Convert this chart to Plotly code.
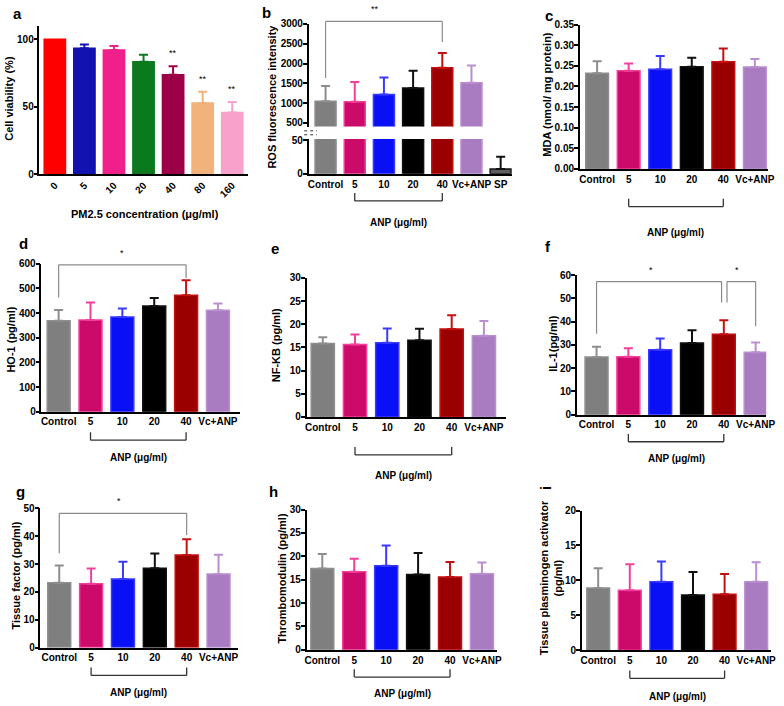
import plotly.graph_objects as go

W, H = 784, 706
FONT = "Liberation Sans, Arial, Helvetica, sans-serif"

# ---------------- data ----------------
a_cats = ["0", "5", "10", "20", "40", "80", "160"]
a_vals = [100, 93.2, 92.0, 83.3, 73.7, 52.7, 45.6]
a_err = [0, 2.8, 3.0, 5.1, 6.3, 8.3, 7.8]
a_sig = ["", "", "", "", "**", "**", "**"]

groups = ["Control", "5", "10", "20", "40", "Vc+ANP"]
b_groups = groups + ["SP"]
b_vals = [1050, 1033, 1217, 1383, 1892, 1517, 7]
b_err = [383, 500, 433, 434, 375, 433, 18.5]

c_vals = [0.232, 0.238, 0.242, 0.248, 0.260, 0.247]
c_err = [0.029, 0.018, 0.032, 0.022, 0.032, 0.020]

d_vals = [369, 372, 384, 429, 473, 412]
d_err = [44, 71, 35, 32, 60, 27]

e_vals = [15.85, 15.64, 16.0, 16.56, 18.97, 17.55]
e_err = [1.35, 2.15, 3.1, 2.5, 3.0, 3.15]

f_vals = [24.8, 24.9, 27.9, 30.8, 34.6, 26.8]
f_err = [4.4, 3.6, 4.8, 5.5, 6.0, 4.2]

g_vals = [23.3, 22.9, 24.6, 28.5, 33.2, 26.4]
g_err = [6.2, 5.5, 6.2, 5.3, 5.7, 6.9]

h_vals = [17.4, 16.7, 18.0, 16.1, 15.6, 16.3]
h_err = [3.1, 2.8, 4.3, 4.6, 3.2, 2.4]

i_vals = [8.9, 8.6, 9.8, 7.9, 8.0, 9.8]
i_err = [2.85, 3.7, 2.9, 3.3, 2.9, 2.8]

# ---------------- styles ----------------
a_fill = ["#FF0000", "#1212B0", "#F0208A", "#0B7A1E", "#9C0046", "#F2B27C", "#F7A1CB"]
g_fill = ["#7F7F7F", "#CC0A6A", "#0A10F5", "#000000", "#9B0000", "#A97CC2"]
g_edge = ["#8E8E8E", "#F2409A", "#3A3AFF", "#111111", "#C41010", "#B98FD0"]
sp_fill, sp_edge = "#5E5E5E", "#111111"

fig = go.Figure()
layout = dict(width=W, height=H, margin=dict(l=0, r=0, t=0, b=0),
              paper_bgcolor="white", plot_bgcolor="rgba(0,0,0,0)",
              showlegend=False, barmode="overlay",
              font=dict(family=FONT, size=10, color="black"))
shapes, annotations = [], []


def nm(n, letter):
    return letter if n == 1 else f"{letter}{n}"


def key(n, letter):
    return f"{letter}axis" if n == 1 else f"{letter}axis{n}"


def set_axes(n, xpx, ypx, xr, yr, xtext, ytv, yfmt=None, tickangle=0, show_x=True):
    layout[key(n, "x")] = dict(
        domain=[xpx[0] / W, xpx[1] / W], range=list(xr), anchor=nm(n, "y"),
        tickmode="array", tickvals=list(range(len(xtext))), ticktext=xtext,
        showline=show_x, showticklabels=show_x, linecolor="black", linewidth=1.5,
        ticks="", showgrid=False, zeroline=False, tickangle=tickangle,
        tickfont=dict(family=FONT, size=10, weight="bold", color="black"))
    ya = dict(
        domain=[1 - ypx[1] / H, 1 - ypx[0] / H], range=list(yr), anchor=nm(n, "x"),
        tickmode="array", tickvals=ytv, showline=True, linecolor="black", linewidth=1.5,
        ticks="outside", ticklen=4, tickwidth=1.5, tickcolor="black",
        showgrid=False, zeroline=False, ticklabelstandoff=-2,
        tickfont=dict(family=FONT, size=10, weight="bold", color="black"))
    if yfmt:
        ya["tickformat"] = yfmt
    layout[key(n, "y")] = ya


def add_bars(n, vals, errs, fills, edges, idx=None, show_err=True, width=0.72):
    idx = range(len(vals)) if idx is None else idx
    for i in idx:
        e = errs[i]
        fig.add_trace(go.Bar(
            x=[i], y=[vals[i]], width=width,
            marker=dict(color=fills[i], line=dict(color=edges[i], width=1.5)),
            error_y=dict(type="data", array=[e], arrayminus=[0], symmetric=False,
                         color=edges[i], thickness=2, width=4.5,
                         visible=bool(show_err and e > 0)),
            xaxis=nm(n, "x"), yaxis=nm(n, "y"), hoverinfo="skip"))


def line(xref, yref, x0, y0, x1, y1, color="#444444", w=1.2):
    shapes.append(dict(type="line", xref=xref, yref=yref, x0=x0, y0=y0, x1=x1, y1=y1,
                       line=dict(color=color, width=w)))


def ydom(v, yr):
    return (v - yr[0]) / (yr[1] - yr[0])


def sig_bracket(n, yr, x0, x1, ytop, yl, yrr):
    xr_, yref = nm(n, "x"), nm(n, "y") + " domain"
    line(xr_, yref, x0, ydom(ytop, yr), x1, ydom(ytop, yr), color="#8A8A8A")
    line(xr_, yref, x0, ydom(ytop, yr), x0, ydom(yl, yr), color="#8A8A8A")
    line(xr_, yref, x1, ydom(ytop, yr), x1, ydom(yrr, yr), color="#8A8A8A")


def star(n, yr, x, y, text, shift=5):
    annotations.append(dict(xref=nm(n, "x"), yref=nm(n, "y") + " domain", x=x, y=ydom(y, yr),
                            text=text, showarrow=False, xanchor="center", yanchor="bottom",
                            yshift=shift, font=dict(family=FONT, size=9, color="black")))


def anp_bracket(n, ybar_px, label_px):
    xr_ = nm(n, "x")
    yb, yt = 1 - ybar_px / H, 1 - (ybar_px - 8) / H
    line(xr_, "paper", 1, yb, 4, yb, color="#333333", w=1.3)
    line(xr_, "paper", 1, yb, 1, yt, color="#333333", w=1.3)
    line(xr_, "paper", 4, yb, 4, yt, color="#333333", w=1.3)
    annotations.append(dict(xref=xr_, yref="paper", x=2.5, y=1 - label_px / H,
                            text="ANP (μg/ml)", showarrow=False,
                            xanchor="center", yanchor="middle",
                            font=dict(family=FONT, size=10, weight="bold", color="black")))


def text_px(x, y, text, size=11, angle=0, bold=True):
    annotations.append(dict(xref="paper", yref="paper", x=x / W, y=1 - y / H, text=text,
                            showarrow=False, textangle=angle,
                            xanchor="center", yanchor="middle",
                            font=dict(family=FONT, size=size, color="black",
                                      weight="bold" if bold else "normal")))


# ---------------- panel a ----------------
a_yr = (0, 110)
set_axes(1, (38, 250), (20, 171), (-0.52, 6.55), a_yr, a_cats, [0, 50, 100], tickangle=-45)
add_bars(1, a_vals, a_err, a_fill, a_fill)
for i, s in enumerate(a_sig):
    if s:
        star(1, a_yr, i, a_vals[i] + a_err[i], s, shift=6)
text_px(145, 212, "PM2.5 concentration (μg/ml)", size=11)
text_px(7.5, 94, "Cell viability (%)", size=11, angle=-90)
text_px(16, 7.5, "a", size=15)

# ---------------- panel b (broken axis) ----------------
b_fill = g_fill + [sp_fill]
b_edge = g_edge + [sp_edge]
b_low, b_up = (0, 52), (408, 3000)
set_axes(2, (311, 517), (135.3, 170.7), (-0.58, 6.38), b_low, b_groups, [0, 50])
set_axes(3, (311, 517), (18.3, 122.7), (-0.58, 6.38), b_up, b_groups,
         [500, 1000, 1500, 2000, 2500, 3000], show_x=False)
add_bars(2, b_vals, b_err, b_fill, b_edge, idx=range(6), show_err=False)
add_bars(2, b_vals, b_err, b_fill, b_edge, idx=[6])
add_bars(3, b_vals, b_err, b_fill, b_edge, idx=range(6))
sig_bracket(3, b_up, 0, 4, 3065, 1634, 2543)
star(3, b_up, 1.7, 3065, "**")
anp_bracket(2, 198.3, 220)
for yy in (127, 131):
    shapes.append(dict(type="line", xref="paper", yref="paper", x0=306.5 / W, x1=319.5 / W,
                       y0=1 - yy / H, y1=1 - yy / H, line=dict(color="#333333", width=1, dash="dot")))
text_px(273.5, 92.5, "ROS fluorescence intensity", size=11, angle=-90)
text_px(268.5, 7, "b", size=15)

# ---------------- panel c ----------------
c_yr = (0, 0.35)
set_axes(4, (586, 777), (19, 165.7), (-0.55, 5.42), c_yr, groups,
         [0, 0.05, 0.10, 0.15, 0.20, 0.25, 0.30, 0.35], yfmt=".2f")
add_bars(4, c_vals, c_err, g_fill, g_edge)
anp_bracket(4, 204, 230)
text_px(553, 90, "MDA (nmol/ mg protein)", size=11, angle=-90)
text_px(554.5, 9.5, "c", size=15)

# ---------------- panel d ----------------
d_yr = (0, 600)
set_axes(5, (40, 241), (262.3, 412.7), (-0.54, 5.68), d_yr, groups, list(range(0, 601, 100)))
add_bars(5, d_vals, d_err, g_fill, g_edge)
sig_bracket(5, d_yr, 0, 4, 596, 463, 543)
star(5, d_yr, 2.0, 596, "*")
anp_bracket(5, 441.7, 459.3)
text_px(9.5, 339, "HO-1 (pg/ml)", size=11, angle=-90)
text_px(21.5, 241.5, "d", size=15)

# ---------------- panel e ----------------
e_yr = (0, 30)
set_axes(6, (309, 511), (276.7, 418), (-0.5, 5.68), e_yr, groups, list(range(0, 31, 5)))
add_bars(6, e_vals, e_err, g_fill, g_edge)
anp_bracket(6, 456.7, 478)
text_px(278, 345, "NF-KB (pg/ml)", size=11, angle=-90)
text_px(276.5, 247, "e", size=15)

# ---------------- panel f ----------------
f_yr = (0, 60)
set_axes(7, (583, 775), (273.7, 415.7), (-0.62, 5.33), f_yr, groups, list(range(0, 61, 10)))
add_bars(7, f_vals, f_err, g_fill, g_edge)
sig_bracket(7, f_yr, 0, 3.93, 57.2, 34.8, 48.2)
sig_bracket(7, f_yr, 4.1, 5.0, 57.2, 48.2, 38.0)
star(7, f_yr, 1.71, 57.2, "*")
star(7, f_yr, 4.43, 57.2, "*")
anp_bracket(7, 443.3, 460)
text_px(559.5, 343, "IL-1(pg/ml)", size=11, angle=-90)
text_px(553.5, 245, "f", size=15)

# ---------------- panel g ----------------
g_yr = (0, 50)
set_axes(8, (39, 239), (511, 652.7), (-0.59, 5.6), g_yr, groups, list(range(0, 51, 10)))
add_bars(8, g_vals, g_err, g_fill, g_edge)
sig_bracket(8, g_yr, 0, 4, 48.2, 33.9, 40.4)
star(8, g_yr, 1.86, 48.2, "*")
anp_bracket(8, 681, 698.3)
text_px(14.5, 579, "Tissue factor (pg/ml)", size=11, angle=-90)
text_px(18.5, 493.5, "g", size=15)

# ---------------- panel h ----------------
h_yr = (0, 30)
set_axes(9, (309, 502), (512.3, 655), (-0.49, 5.47), h_yr, groups, list(range(0, 31, 5)))
add_bars(9, h_vals, h_err, g_fill, g_edge)
anp_bracket(9, 682.7, 699.3)
text_px(284.5, 583, "Thrombomodulin (pg/ml)", size=11, angle=-90)
text_px(275, 493.5, "h", size=15)

# ---------------- panel i ----------------
i_yr = (0, 20)
set_axes(10, (588, 780), (513.3, 655.3), (-0.52, 5.47), i_yr, groups, list(range(0, 21, 5)))
add_bars(10, i_vals, i_err, g_fill, g_edge)
anp_bracket(10, 684, 702.7)
text_px(557, 582, "Tissue plasminogen activator<br>(pg/ml)", size=11, angle=-90)
text_px(551, 490, "i", size=15, angle=-90)

layout["shapes"] = shapes
layout["annotations"] = annotations
fig.update_layout(**layout)
fig.write_html("out.html", config={"displayModeBar": False},
               post_script="document.body.style.margin='0';")
